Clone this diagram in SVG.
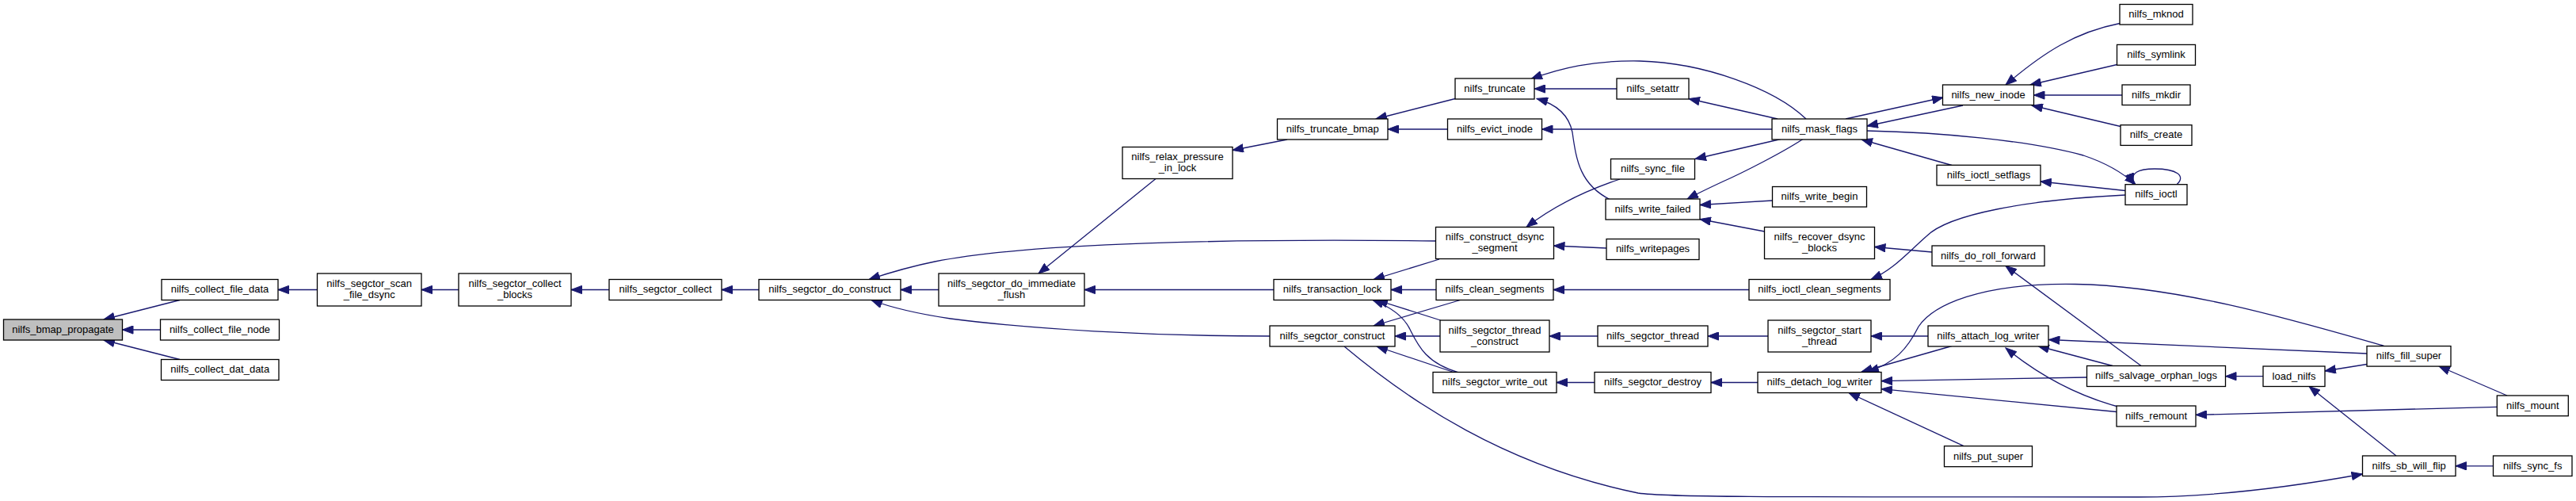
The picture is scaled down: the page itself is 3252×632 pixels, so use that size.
<svg xmlns="http://www.w3.org/2000/svg" width="3252" height="632" viewBox="0 0 3252 632">
<style>
.n rect{fill:#fff;stroke:#000;stroke-width:1.3}
.n.root rect{fill:#bfbfbf}
text{font-family:"Liberation Sans",Arial,Helvetica,sans-serif;font-size:13px;text-anchor:middle;fill:#000}
.e path{fill:none;stroke:#191970;stroke-width:1.3;marker-end:url(#a)}
</style>
<defs>
<marker id="a" markerUnits="userSpaceOnUse" markerWidth="15" markerHeight="11" viewBox="0 0 15 11" refX="14" refY="5.5" orient="auto">
<path d="M0.5,0.4L14,5.5L0.5,10.6z" fill="#191970" stroke="#191970" stroke-width="1"/>
</marker>
</defs>
<rect width="3252" height="632" fill="#fff"/>
<g id="connectors" class="e">
<path d="M227,378.5L131,403"/>
<path d="M202.5,416L154.5,416"/>
<path d="M227,453.5L131,429"/>
<path d="M400.5,365.5L351,365.5"/>
<path d="M579,365.5L532,365.5"/>
<path d="M769,365.5L721,365.5"/>
<path d="M958,365.5L911,365.5"/>
<path d="M1812.5,304C1560,301 1300,306 1180,330C1150,336 1120,345 1097,352.5"/>
<path d="M1185,365.5L1137,365.5"/>
<path d="M1603,424C1450,424 1300,415 1200,402C1160,396 1125,388 1100,378.5"/>
<path d="M1459,225.5L1311,345"/>
<path d="M1608,365.5L1369,365.5"/>
<path d="M1625,176L1556,189.5"/>
<path d="M1837,124.5L1737,150"/>
<path d="M1827.5,163L1752,163"/>
<path d="M2041,112L1937,112"/>
<path d="M2280,150C2240,111.5 2150,79 2070,77C2010,76 1970,86 1933,99.5"/>
<path d="M2033,252C1995,233 1990,203 1985,167C1980,142 1960,130 1940,124.5"/>
<path d="M2244,150L2132,124.5"/>
<path d="M2237,163L1946.5,163"/>
<path d="M2248,175.5L2140,200.5"/>
<path d="M2276,175.5C2250,192.5 2200,218 2175,229C2160,236 2145,243 2130,251"/>
<path d="M2237.5,253L2146,258.5"/>
<path d="M2227.5,292L2146,276.5"/>
<path d="M2045,226C2000,241 1960,261 1927,286.5"/>
<path d="M2028,313L1961.5,310"/>
<path d="M1817,327L1734,352.5"/>
<path d="M1813,365.5L1756,365.5"/>
<path d="M1818.5,404L1738,378.5"/>
<path d="M1842,470C1800,458 1790,435.5 1780,415.5C1770,395 1750,385 1733,378.5"/>
<path d="M1843.5,378.5L1734,411"/>
<path d="M1818,424L1761,424"/>
<path d="M1835,469.5L1738,437"/>
<path d="M1697,437C1780,506.5 1900,587.5 2068,622C2100,627 2200,627 2700,627C2800,627 2900,613 2982.5,598"/>
<path d="M2478,133L2357,159"/>
<path d="M2330,150L2453,123"/>
<path d="M2464,208.5L2350,176"/>
<path d="M2357,165C2450,167 2560,177 2630,196C2660,206 2680,218 2696,232.7"/>
<path d="M2748,232.7C2760,222 2748,213 2720,213C2700,213 2688,218 2693,232.5"/>
<path d="M2683,240.5L2576,229"/>
<path d="M2676,29.5C2620,40.5 2580,66 2532,107"/>
<path d="M2672.5,81.5L2563,107"/>
<path d="M2679,120L2567.5,120"/>
<path d="M2677,159.5L2565,133"/>
<path d="M2683,246C2560,252 2460,270 2432,298C2405,322 2390,340 2362,352.5"/>
<path d="M2208,365.5L1961,365.5"/>
<path d="M2439,318L2366.5,311.5"/>
<path d="M2703,461.5L2532,335.5"/>
<path d="M2017,424L1956,424"/>
<path d="M2232,424L2156,424"/>
<path d="M2434,424L2362,424"/>
<path d="M2013,482.5L1965,482.5"/>
<path d="M2219,482.5L2160,482.5"/>
<path d="M2464,436.5L2350,469"/>
<path d="M3010,436.5C2900,405 2750,360.5 2620,358.5C2500,356.5 2440,385 2422,412C2408,440 2392,458 2358,469"/>
<path d="M2634.5,476L2375,480.7"/>
<path d="M2672,519.5L2375,490.7"/>
<path d="M2479,562.7L2334,495.5"/>
<path d="M2988,446L2586.5,428.5"/>
<path d="M2667,461.5L2573,436.5"/>
<path d="M2672,512.5C2620,498 2575,474 2532,439"/>
<path d="M2857,474.7L2809.5,474.7"/>
<path d="M2988,459.5L2935,468"/>
<path d="M3165,499L3079,462"/>
<path d="M3152.3,513.3L2772,523.4"/>
<path d="M3025,575L2915,487.5"/>
<path d="M3147.5,587.8L3100,587.8"/>
</g>
<g id="nilfs_bmap_propagate" class="n root"><rect x="4.5" y="403" width="150" height="26"/><text x="79.5" y="419.8">nilfs_bmap_propagate</text></g>
<g id="nilfs_collect_file_data" class="n"><rect x="204" y="352.5" width="147" height="26"/><text x="277.5" y="369.3">nilfs_collect_file_data</text></g>
<g id="nilfs_collect_file_node" class="n"><rect x="202.5" y="403" width="150" height="26"/><text x="277.5" y="419.8">nilfs_collect_file_node</text></g>
<g id="nilfs_collect_dat_data" class="n"><rect x="203.5" y="453.5" width="148.5" height="26"/><text x="277.7" y="470.3">nilfs_collect_dat_data</text></g>
<g id="nilfs_segctor_scan_file_dsync" class="n"><rect x="400.5" y="345" width="131.5" height="41"/><text x="466.2" y="362.1">nilfs_segctor_scan</text><text x="466.2" y="376.4">_file_dsync</text></g>
<g id="nilfs_segctor_collect_blocks" class="n"><rect x="579" y="345" width="142" height="41"/><text x="650" y="362.1">nilfs_segctor_collect</text><text x="650" y="376.4">_blocks</text></g>
<g id="nilfs_segctor_collect" class="n"><rect x="769" y="352.5" width="142" height="26"/><text x="840" y="369.3">nilfs_segctor_collect</text></g>
<g id="nilfs_segctor_do_construct" class="n"><rect x="958" y="352.5" width="179" height="26"/><text x="1047.5" y="369.3">nilfs_segctor_do_construct</text></g>
<g id="nilfs_segctor_do_immediate_flush" class="n"><rect x="1185" y="345" width="184" height="41"/><text x="1277" y="362.1">nilfs_segctor_do_immediate</text><text x="1277" y="376.4">_flush</text></g>
<g id="nilfs_relax_pressure_in_lock" class="n"><rect x="1417" y="185.5" width="139" height="40"/><text x="1486.5" y="202.1">nilfs_relax_pressure</text><text x="1486.5" y="216.4">_in_lock</text></g>
<g id="nilfs_truncate_bmap" class="n"><rect x="1612.5" y="150" width="139.5" height="26"/><text x="1682.2" y="166.8">nilfs_truncate_bmap</text></g>
<g id="nilfs_transaction_lock" class="n"><rect x="1608" y="352.5" width="148" height="26"/><text x="1682" y="369.3">nilfs_transaction_lock</text></g>
<g id="nilfs_segctor_construct" class="n"><rect x="1603" y="411" width="158" height="26"/><text x="1682" y="427.8">nilfs_segctor_construct</text></g>
<g id="nilfs_truncate" class="n"><rect x="1837" y="99" width="100" height="26"/><text x="1887" y="115.8">nilfs_truncate</text></g>
<g id="nilfs_evict_inode" class="n"><rect x="1827.5" y="150" width="119" height="26"/><text x="1887" y="166.8">nilfs_evict_inode</text></g>
<g id="nilfs_construct_dsync_segment" class="n"><rect x="1812.5" y="286.5" width="149" height="40"/><text x="1887" y="303.1">nilfs_construct_dsync</text><text x="1887" y="317.4">_segment</text></g>
<g id="nilfs_clean_segments" class="n"><rect x="1813" y="352.5" width="148" height="26"/><text x="1887" y="369.3">nilfs_clean_segments</text></g>
<g id="nilfs_segctor_thread_construct" class="n"><rect x="1818" y="404" width="138" height="40"/><text x="1887" y="420.6">nilfs_segctor_thread</text><text x="1887" y="434.9">_construct</text></g>
<g id="nilfs_segctor_write_out" class="n"><rect x="1809" y="469.5" width="156" height="26"/><text x="1887" y="486.3">nilfs_segctor_write_out</text></g>
<g id="nilfs_setattr" class="n"><rect x="2041" y="99" width="91" height="26"/><text x="2086.5" y="115.8">nilfs_setattr</text></g>
<g id="nilfs_sync_file" class="n"><rect x="2033.5" y="200.5" width="106" height="25.5"/><text x="2086.5" y="216.8">nilfs_sync_file</text></g>
<g id="nilfs_write_failed" class="n"><rect x="2027" y="251" width="119" height="26"/><text x="2086.5" y="267.8">nilfs_write_failed</text></g>
<g id="nilfs_writepages" class="n"><rect x="2028" y="301.5" width="117" height="26"/><text x="2086.5" y="318.3">nilfs_writepages</text></g>
<g id="nilfs_segctor_thread" class="n"><rect x="2017" y="411" width="139" height="26"/><text x="2086.5" y="427.8">nilfs_segctor_thread</text></g>
<g id="nilfs_segctor_destroy" class="n"><rect x="2013" y="469.5" width="147" height="26"/><text x="2086.5" y="486.3">nilfs_segctor_destroy</text></g>
<g id="nilfs_mask_flags" class="n"><rect x="2237" y="150" width="120" height="26"/><text x="2297" y="166.8">nilfs_mask_flags</text></g>
<g id="nilfs_write_begin" class="n"><rect x="2237.5" y="235.5" width="119" height="25.5"/><text x="2297" y="251.8">nilfs_write_begin</text></g>
<g id="nilfs_recover_dsync_blocks" class="n"><rect x="2227.5" y="286.5" width="139" height="40"/><text x="2297" y="303.1">nilfs_recover_dsync</text><text x="2297" y="317.4">_blocks</text></g>
<g id="nilfs_ioctl_clean_segments" class="n"><rect x="2208" y="352.5" width="178" height="26"/><text x="2297" y="369.3">nilfs_ioctl_clean_segments</text></g>
<g id="nilfs_segctor_start_thread" class="n"><rect x="2232" y="404" width="130" height="40"/><text x="2297" y="420.6">nilfs_segctor_start</text><text x="2297" y="434.9">_thread</text></g>
<g id="nilfs_detach_log_writer" class="n"><rect x="2219" y="469.5" width="156" height="26"/><text x="2297" y="486.3">nilfs_detach_log_writer</text></g>
<g id="nilfs_new_inode" class="n"><rect x="2452.5" y="107" width="115" height="25.5"/><text x="2510" y="123.8">nilfs_new_inode</text></g>
<g id="nilfs_ioctl_setflags" class="n"><rect x="2445" y="208.3" width="131" height="25.5"/><text x="2510.5" y="224.8">nilfs_ioctl_setflags</text></g>
<g id="nilfs_do_roll_forward" class="n"><rect x="2439" y="310" width="142" height="25.5"/><text x="2510" y="326.5">nilfs_do_roll_forward</text></g>
<g id="nilfs_attach_log_writer" class="n"><rect x="2434" y="411" width="152" height="26"/><text x="2510" y="427.8">nilfs_attach_log_writer</text></g>
<g id="nilfs_put_super" class="n"><rect x="2454.5" y="562.7" width="111" height="26"/><text x="2510" y="579.5">nilfs_put_super</text></g>
<g id="nilfs_mknod" class="n"><rect x="2676" y="5.5" width="92" height="25.5"/><text x="2722" y="22.1">nilfs_mknod</text></g>
<g id="nilfs_symlink" class="n"><rect x="2672.5" y="56.4" width="99" height="25.8"/><text x="2722" y="73.1">nilfs_symlink</text></g>
<g id="nilfs_mkdir" class="n"><rect x="2679" y="107" width="86" height="25.5"/><text x="2722" y="123.8">nilfs_mkdir</text></g>
<g id="nilfs_create" class="n"><rect x="2677" y="157.7" width="90" height="25.7"/><text x="2722" y="174.3">nilfs_create</text></g>
<g id="nilfs_ioctl" class="n"><rect x="2683" y="232.7" width="78" height="25.7"/><text x="2722" y="249.3">nilfs_ioctl</text></g>
<g id="nilfs_salvage_orphan_logs" class="n"><rect x="2634.5" y="461.5" width="175" height="26"/><text x="2722" y="478.3">nilfs_salvage_orphan_logs</text></g>
<g id="nilfs_remount" class="n"><rect x="2672" y="512" width="100" height="26"/><text x="2722" y="528.8">nilfs_remount</text></g>
<g id="load_nilfs" class="n"><rect x="2857" y="462" width="78" height="25.5"/><text x="2896" y="478.5">load_nilfs</text></g>
<g id="nilfs_fill_super" class="n"><rect x="2988" y="436.6" width="106" height="25.5"/><text x="3041" y="453.1">nilfs_fill_super</text></g>
<g id="nilfs_sb_will_flip" class="n"><rect x="2982.5" y="575" width="117.5" height="25.5"/><text x="3041.2" y="591.6">nilfs_sb_will_flip</text></g>
<g id="nilfs_mount" class="n"><rect x="3152.3" y="499" width="90" height="25.7"/><text x="3197.3" y="515.8">nilfs_mount</text></g>
<g id="nilfs_sync_fs" class="n"><rect x="3147.5" y="575" width="99.5" height="25.5"/><text x="3197.2" y="591.6">nilfs_sync_fs</text></g>
</svg>
